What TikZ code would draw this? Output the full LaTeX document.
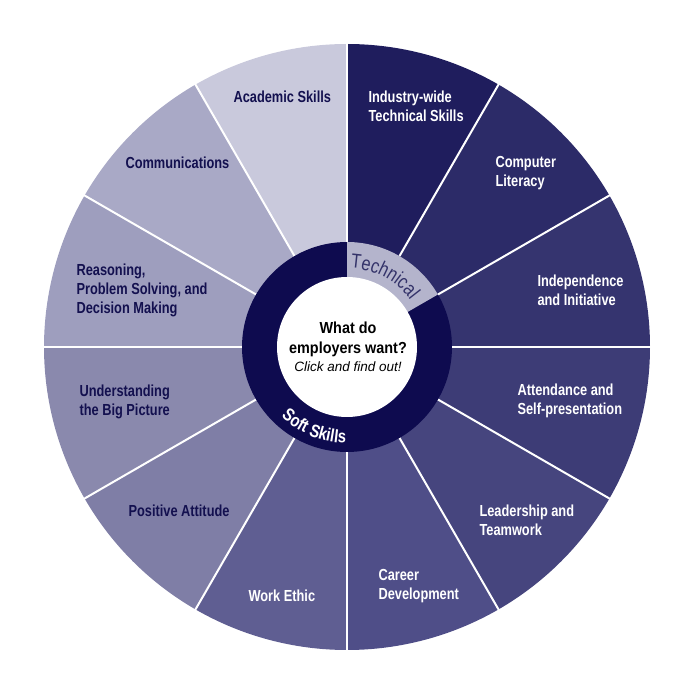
\documentclass[tikz,border=0pt]{standalone}
\usepackage{fontspec}
\setmainfont{Liberation Sans}
\newfontfamily\lblfont{Liberation Sans}[FakeStretch=0.8]
\newfontfamily\askfont{Liberation Sans}[FakeStretch=0.9]
\newfontfamily\ringfont{Liberation Sans}[FakeStretch=0.82]
\usepackage{tikz}
\usetikzlibrary{decorations.text}

\definecolor{cAcad}{HTML}{C9C9DC}
\definecolor{cComm}{HTML}{A9A9C6}
\definecolor{cReason}{HTML}{9E9EBE}
\definecolor{cUnder}{HTML}{8A89AD}
\definecolor{cPosit}{HTML}{7F7EA6}
\definecolor{cWork}{HTML}{5F5E92}
\definecolor{cCareer}{HTML}{4F4E88}
\definecolor{cLead}{HTML}{46457E}
\definecolor{cAttend}{HTML}{3D3C76}
\definecolor{cIndep}{HTML}{35346F}
\definecolor{cComp}{HTML}{2C2B68}
\definecolor{cIndus}{HTML}{1F1D5D}
\definecolor{cRing}{HTML}{0E0B4F}
\definecolor{cTech}{HTML}{B4B4CC}
\definecolor{cTechInk}{HTML}{34336A}
\definecolor{cInk}{HTML}{13104F}

\begin{document}
\begin{tikzpicture}[x=1pt, y=1pt,
   lbl/.style={anchor=west, align=left, font=\lblfont\bfseries\fontsize{16}{19}\selectfont},
   lbllight/.style={lbl, text=cInk},
   lbldark/.style={lbl, text=white},
   divider/.style={white, line width=2pt}]
   \useasboundingbox (-347,-353) rectangle (353,347);

   % sectors (start angle / colour)
   \foreach \s/\c in {60/cIndus, 30/cComp, 0/cIndep, -30/cAttend, -60/cLead,
                      -90/cCareer, -120/cWork, -150/cPosit, 180/cUnder,
                      150/cReason, 120/cComm, 90/cAcad}
      \fill[\c] (0,0) -- (\s:303) arc[start angle=\s, end angle=\s+30, radius=303] -- cycle;
   \foreach \a in {0,30,...,330}
      \draw[divider] (\a:104) -- (\a:304);

   % inner ring
   \fill[cRing] (0,0) circle[radius=105];
   \fill[cTech] (0,0) -- (30:105) arc[start angle=30, end angle=90, radius=105] -- cycle;
   \fill[white] (0,0) circle[radius=70];

   % ring titles
   \path[decorate, decoration={text along path, text align=center, text color=cTechInk,
      text={|\ringfont\fontsize{20}{20}\selectfont|Technical}}]
      (93:79) arc[start angle=93, end angle=31, radius=79];
   \path[decorate, decoration={text along path, text align=center, text color=white,
      text={|\ringfont\bfseries\fontsize{18}{18}\selectfont|Soft Skills}}]
      (218:96) arc[start angle=218, end angle=278, radius=96];

   % centre
   \node[align=center, font=\askfont\bfseries\fontsize{16}{20}\selectfont] (ask) at (1,0)
      {What do\\employers want?\\[-2pt]
       \normalfont\itshape\fontsize{13.5}{17}\selectfont Click and find out!};

   % technical skills
   \node[lbldark] (indus) at (18,240.5) {Industry-wide\\Technical Skills};
   \node[lbldark] (comp) at (145,173.5) {Computer\\Literacy};
   \node[lbldark] (indep) at (187,56.5) {Independence\\and Initiative};
   % soft skills
   \node[lbldark] (attend) at (167,-54) {Attendance and\\Self-presentation};
   \node[lbldark] (lead) at (129,-173.5) {Leadership and\\Teamwork};
   \node[lbldark] (career) at (28,-239.5) {Career\\Development};
   \node[lbldark] (work) at (-102,-249) {Work Ethic};
   \node[lbllight] (posit) at (-222,-164) {Positive Attitude};
   \node[lbllight] (under) at (-271,-54.5) {Understanding\\the Big Picture};
   \node[lbllight] (reason) at (-274,57) {Reasoning,\\Problem Solving, and\\Decision Making};
   \node[lbllight] (comm) at (-225,184) {Communications};
   \node[lbllight] (acad) at (-117,250) {Academic Skills};
\end{tikzpicture}
\end{document}
